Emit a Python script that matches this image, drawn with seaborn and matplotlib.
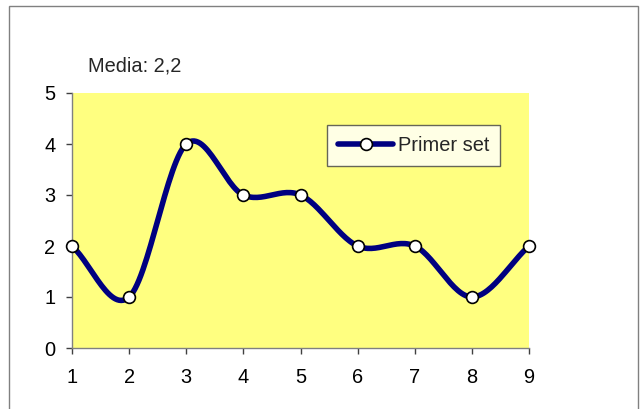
import matplotlib
matplotlib.use("Agg")
import matplotlib.pyplot as plt
import numpy as np
import pandas as pd
import seaborn as sns
from matplotlib.lines import Line2D
from matplotlib.patches import Rectangle

# data
x_vals = [1, 2, 3, 4, 5, 6, 7, 8, 9]
y_vals = [2, 1, 4, 3, 3, 2, 2, 1, 2]
series_name = 'Primer set'
title_text = 'Media: 2,2'


def smooth(xs, ys, n=30):
    # catmull-rom style smoothing like the spreadsheet "smoothed line"
    xs = np.asarray(xs, float)
    ys = np.asarray(ys, float)
    px = np.concatenate([[2 * xs[0] - xs[1]], xs, [2 * xs[-1] - xs[-2]]])
    py = np.concatenate([[2 * ys[0] - ys[1]], ys, [2 * ys[-1] - ys[-2]]])
    out_x, out_y = [], []
    t = np.linspace(0, 1, n)
    for i in range(1, len(px) - 2):
        p0, p1, p2, p3 = [np.array([px[j], py[j]]) for j in range(i - 1, i + 3)]
        c1 = p1 + (p2 - p0) / 6
        c2 = p2 - (p3 - p1) / 6
        pts = ((1 - t) ** 3)[:, None] * p1 + (3 * (1 - t) ** 2 * t)[:, None] * c1 \
            + (3 * (1 - t) * t ** 2)[:, None] * c2 + (t ** 3)[:, None] * p2
        out_x.extend(pts[:, 0])
        out_y.extend(pts[:, 1])
    return np.array(out_x), np.array(out_y)


sx, sy = smooth(x_vals, y_vals)
curve = pd.DataFrame({'x': sx, 'y': sy})
points = pd.DataFrame({'x': x_vals, 'y': y_vals})

sns.set_style('white')
plt.rcParams['font.family'] = ['Liberation Sans', 'DejaVu Sans']
fs = 14.4

fig = plt.figure(figsize=(6.4, 4.09), dpi=100)
ax = fig.add_axes([72 / 640, 1 - 348 / 409, (529 - 72) / 640, (348 - 93) / 409])
ax.set_facecolor('#FFFF80')

sns.lineplot(data=curve, x='x', y='y', sort=False, color='#000080', linewidth=4,
             ax=ax, legend=False, solid_capstyle='round')
sns.scatterplot(data=points, x='x', y='y', color='white', edgecolor='black',
                linewidth=1.2, s=72, zorder=5, ax=ax, legend=False, clip_on=False)

ax.set_xlim(1, 9)
ax.set_ylim(0, 5)
ax.set_xticks(x_vals)
ax.set_yticks(range(0, 6))
ax.set_xlabel('')
ax.set_ylabel('')
for side in ['top', 'right']:
    ax.spines[side].set_visible(False)
for side in ['left', 'bottom']:
    ax.spines[side].set_color('#808080')
    ax.spines[side].set_linewidth(1)
ax.tick_params(axis='both', direction='out', length=4.5, width=1, color='#404040',
               labelsize=fs, labelcolor='black', bottom=True, left=True)
ax.tick_params(axis='x', pad=10)
ax.tick_params(axis='y', pad=7.5)

handle = Line2D([0], [0], color='#000080', linewidth=4, marker='o',
                markerfacecolor='white', markeredgecolor='black', markersize=8.5,
                markeredgewidth=1.2)
leg = ax.legend([handle], [series_name], loc='upper left',
                bbox_to_anchor=((327 - 72) / 457, 1 - (125 - 93) / 255),
                fontsize=fs, frameon=True, fancybox=False, handlelength=2.75,
                handletextpad=0.25, borderpad=0.55, borderaxespad=0)
leg.get_frame().set_edgecolor('#404040')
leg.get_frame().set_linewidth(1)
leg.get_frame().set_facecolor('white')

fig.text(88 / 640, 1 - 72 / 409, title_text, fontsize=fs, va='baseline', ha='left')

fig.patches.append(Rectangle((9 / 640, -0.1), (638 - 9) / 640, 1.1 - 6 / 409,
                             transform=fig.transFigure, fill=False,
                             edgecolor='#808080', linewidth=1))

fig.savefig('out.png', dpi=100)
